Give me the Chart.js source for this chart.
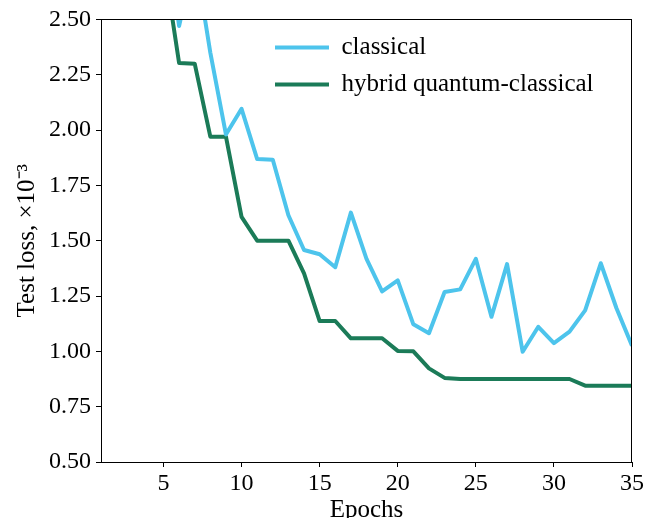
<!DOCTYPE html>
<html>
<head>
<meta charset="utf-8">
<script src="https://cdn.jsdelivr.net/npm/chart.js@4.4.1/dist/chart.umd.min.js"></script>
<style>
  html, body { margin: 0; padding: 0; background: #ffffff; }
  #c { display: block; }
</style>
</head>
<body>
<canvas id="c" width="655" height="518"></canvas>
<script>
// ---- data ----
const epochs = [1, 2, 3, 4, 5, 6, 7, 8, 9, 10, 11, 12, 13, 14, 15, 16, 17, 18, 19, 20,
                21, 22, 23, 24, 25, 26, 27, 28, 29, 30, 31, 32, 33, 34, 35];
const classicalLoss = [5.0, 4.2, 3.6, 3.2, 3.0, 2.47, 2.79, 2.35, 1.98, 2.096,
                       1.869, 1.866, 1.615, 1.458, 1.439, 1.38, 1.627, 1.418, 1.271, 1.321,
                       1.122, 1.082, 1.268, 1.28, 1.418, 1.156, 1.394, 0.998, 1.111, 1.037,
                       1.089, 1.185, 1.398, 1.196, 1.025];
const hybridLoss = [4.5, 3.8, 3.3, 3.0, 2.77, 2.303, 2.30, 1.97, 1.97, 1.608,
                    1.5, 1.5, 1.5, 1.352, 1.137, 1.137, 1.059, 1.059, 1.059, 1.002,
                    1.0, 0.923, 0.88, 0.875, 0.875, 0.875, 0.875, 0.875, 0.875, 0.875,
                    0.875, 0.845, 0.845, 0.845, 0.845];
const seriesNames = ['classical', 'hybrid quantum-classical'];
const xTicks = [5, 10, 15, 20, 25, 30, 35];
const yTicks = [0.50, 0.75, 1.00, 1.25, 1.50, 1.75, 2.00, 2.25, 2.50];
const xTitle = 'Epochs';
const yTitle = 'Test loss, \u00d710\u207b\u00b3';

// ---- styling ----
const FONT = "'Liberation Serif', 'Times New Roman', serif";
const BLUE = '#4dc4ec';
const GREEN = '#1b7b58';

const toPoints = (ys) => epochs.map((x, i) => ({ x: x, y: ys[i] }));

const framePlugin = {
  id: 'frame',
  afterDatasetsDraw(chart) {
    const a = chart.chartArea, ctx = chart.ctx;
    ctx.save();
    ctx.strokeStyle = '#000';
    ctx.lineWidth = 1;
    ctx.strokeRect(Math.round(a.left) + 0.5, Math.round(a.top) + 0.5,
                   Math.round(a.right - a.left) - 1, Math.round(a.bottom - a.top));
    ctx.restore();
  }
};

const legendPlacer = {
  id: 'legendPlacer',
  afterLayout(chart) {
    const lg = chart.legend;
    if (!lg) return;
    const w = lg.width, h = lg.height;
    lg.left = 263; lg.top = 23;
    lg.right = lg.left + w; lg.bottom = lg.top + h;
  }
};

new Chart(document.getElementById('c'), {
  type: 'line',
  data: {
    datasets: [
      {
        label: seriesNames[0],
        data: toPoints(classicalLoss),
        borderColor: BLUE,
        backgroundColor: BLUE,
        borderWidth: 4,
        pointRadius: 0,
        tension: 0,
        borderJoinStyle: 'round',
        pointStyle: 'line'
      },
      {
        label: seriesNames[1],
        data: toPoints(hybridLoss),
        borderColor: GREEN,
        backgroundColor: GREEN,
        borderWidth: 4,
        pointRadius: 0,
        tension: 0,
        borderJoinStyle: 'round',
        pointStyle: 'line'
      }
    ]
  },
  options: {
    responsive: false,
    animation: false,
    devicePixelRatio: 1,
    layout: { padding: { left: 0, right: 23, top: 16, bottom: 0 } },
    plugins: {
      legend: {
        position: 'chartArea',
        align: 'start',
        labels: {
          usePointStyle: true,
          pointStyleWidth: 54,
          padding: 12,
          color: '#000',
          font: { family: FONT, size: 25 }
        }
      },
      tooltip: { enabled: false }
    },
    scales: {
      x: {
        type: 'linear',
        min: 1,
        max: 35,
        afterBuildTicks(scale) { scale.ticks = xTicks.map(v => ({ value: v })); },
        afterFit(scale) { scale.height = 56; },
        grid: { display: true, drawOnChartArea: false, drawTicks: true, tickLength: 5, color: '#000', lineWidth: 1 },
        border: { display: true, color: '#000', width: 1 },
        ticks: {
          autoSkip: false, maxRotation: 0, padding: 2, color: '#000',
          font: { family: FONT, size: 24 },
          callback: (v) => String(v)
        },
        title: {
          display: true, text: xTitle, color: '#000',
          font: { family: FONT, size: 25, lineHeight: 1.0 },
          padding: { top: 0, bottom: -5 }
        }
      },
      y: {
        type: 'linear',
        min: 0.5,
        max: 2.5,
        afterBuildTicks(scale) { scale.ticks = yTicks.map(v => ({ value: v })); },
        afterFit(scale) { scale.width = 101; },
        grid: { display: true, drawOnChartArea: false, drawTicks: true, tickLength: 5, color: '#000', lineWidth: 1 },
        border: { display: true, color: '#000', width: 1 },
        ticks: {
          autoSkip: false, padding: 5, color: '#000',
          font: { family: FONT, size: 24 },
          callback: (v) => Number(v).toFixed(2)
        },
        title: {
          display: true, text: yTitle, color: '#000',
          font: { family: FONT, size: 25 },
          padding: { top: 12, bottom: 0 }
        }
      }
    }
  },
  plugins: [framePlugin, legendPlacer]
});
</script>
</body>
</html>
